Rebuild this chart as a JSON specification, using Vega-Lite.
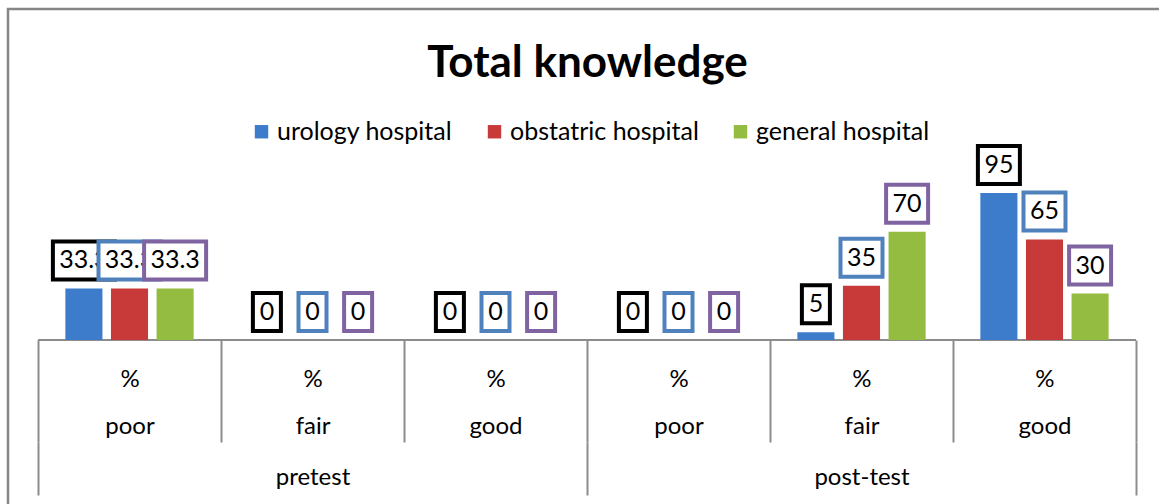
{
  "$schema": "https://vega.github.io/schema/vega-lite/v6.json",
  "autosize": {"type": "none"},
  "width": 1171,
  "height": 499,
  "padding": {"left": 8, "top": 9, "right": -20, "bottom": -4},
  "background": "#ffffff",
  "title": {"text": "Total knowledge", "font": "Lato", "fontSize": 44, "fontWeight": "bold", "color": "#000000", "anchor": "middle", "frame": "group", "baseline": "alphabetic", "offset": -67, "dy": 45, "dx": -6},
  "config": {
    "view": {"stroke": "#868686", "strokeWidth": 2.5},
    "font": "Lato"
  },
  "data": {"values": [
    {"group": "pretest|poor", "test": "pretest", "level": "poor", "hospital": "urology hospital", "value": 33.3},
    {"group": "pretest|poor", "test": "pretest", "level": "poor", "hospital": "obstatric hospital", "value": 33.3},
    {"group": "pretest|poor", "test": "pretest", "level": "poor", "hospital": "general hospital", "value": 33.3},
    {"group": "pretest|fair", "test": "pretest", "level": "fair", "hospital": "urology hospital", "value": 0},
    {"group": "pretest|fair", "test": "pretest", "level": "fair", "hospital": "obstatric hospital", "value": 0},
    {"group": "pretest|fair", "test": "pretest", "level": "fair", "hospital": "general hospital", "value": 0},
    {"group": "pretest|good", "test": "pretest", "level": "good", "hospital": "urology hospital", "value": 0},
    {"group": "pretest|good", "test": "pretest", "level": "good", "hospital": "obstatric hospital", "value": 0},
    {"group": "pretest|good", "test": "pretest", "level": "good", "hospital": "general hospital", "value": 0},
    {"group": "post-test|poor", "test": "post-test", "level": "poor", "hospital": "urology hospital", "value": 0},
    {"group": "post-test|poor", "test": "post-test", "level": "poor", "hospital": "obstatric hospital", "value": 0},
    {"group": "post-test|poor", "test": "post-test", "level": "poor", "hospital": "general hospital", "value": 0},
    {"group": "post-test|fair", "test": "post-test", "level": "fair", "hospital": "urology hospital", "value": 5},
    {"group": "post-test|fair", "test": "post-test", "level": "fair", "hospital": "obstatric hospital", "value": 35},
    {"group": "post-test|fair", "test": "post-test", "level": "fair", "hospital": "general hospital", "value": 70},
    {"group": "post-test|good", "test": "post-test", "level": "good", "hospital": "urology hospital", "value": 95},
    {"group": "post-test|good", "test": "post-test", "level": "good", "hospital": "obstatric hospital", "value": 65},
    {"group": "post-test|good", "test": "post-test", "level": "good", "hospital": "general hospital", "value": 30}
  ]},
  "layer": [
    {
      "encoding": {
        "x": {
          "field": "group", "type": "nominal", "sort": null,
          "scale": {"domain": ["pretest|poor", "pretest|fair", "pretest|good", "post-test|poor", "post-test|fair", "post-test|good"], "paddingInner": 0, "paddingOuter": 0.1995, "align": 0.411},
          "axis": {
            "orient": "bottom", "offset": -168, "title": null, "domain": false,
            "ticks": true, "tickBand": "extent", "tickSize": 102, "tickColor": "#8c8c8c", "tickWidth": 2,
            "labelExpr": "datum.label ? ['%', split(datum.label, '|')[1]] : ''",
            "labelFont": "Lato", "labelFontSize": 24, "labelColor": "#000000", "labelLineHeight": 47,
            "labelBaseline": "top", "labelPadding": -75, "labelOverlap": false, "labelAngle": 0
          }
        },
        "y": {"field": "value", "type": "quantitative", "scale": {"domain": [-108.57, 213.9], "nice": false, "zero": false}, "axis": null}
      },
      "layer": [
        {
          "mark": {"type": "bar", "fill": null, "fillOpacity": 0, "stroke": "#8c8c8c", "strokeWidth": 2},
          "encoding": {"y": {"datum": 0}, "y2": {"datum": 0}}
        },
        {
          "mark": {"type": "bar"},
          "encoding": {
            "xOffset": {"field": "hospital", "type": "nominal", "sort": null, "scale": {"domain": ["urology hospital", "obstatric hospital", "general hospital"], "paddingInner": 0.187, "paddingOuter": 0.6}},
            "y2": {"datum": 0},
            "color": {
              "field": "hospital", "type": "nominal", "sort": null,
              "scale": {"domain": ["urology hospital", "obstatric hospital", "general hospital"], "range": ["#3C7CCB", "#C83A3A", "#94BC40"]},
              "legend": {
                "orient": "none", "legendX": 241, "legendY": 110, "direction": "horizontal", "title": null,
                "labelFont": "Lato", "labelFontSize": 25, "labelColor": "#000000", "labelOffset": 3, "labelLimit": 0,
                "symbolType": "square", "symbolSize": 180, "symbolStrokeWidth": 0, "columnPadding": 29
              }
            }
          }
        },
        {
          "transform": [{"filter": "datum.hospital === 'urology hospital'"}],
          "mark": {"type": "point", "fill": "#ffffff", "stroke": "#000000", "strokeWidth": 4, "fillOpacity": 1, "strokeOpacity": 1, "opacity": 1, "size": 1444, "yOffset": -28},
          "encoding": {
            "xOffset": {"field": "hospital", "type": "nominal", "sort": null, "scale": {"domain": ["urology hospital", "obstatric hospital", "general hospital"], "paddingInner": 0.187, "paddingOuter": 0.6}},
            "shape": {"field": "value", "type": "nominal", "scale": {"domain": [0, 5, 30, 35, 65, 70, 95, 33.3], "range": ["M-0.737,-1H0.737V1H-0.737Z", "M-0.737,-1H0.737V1H-0.737Z", "M-1.105,-1H1.105V1H-1.105Z", "M-1.105,-1H1.105V1H-1.105Z", "M-1.105,-1H1.105V1H-1.105Z", "M-1.105,-1H1.105V1H-1.105Z", "M-1.105,-1H1.105V1H-1.105Z", "M-1.632,-1H1.632V1H-1.632Z"]}, "legend": null}
          }
        },
        {
          "transform": [{"filter": "datum.hospital === 'urology hospital'"}],
          "mark": {"type": "text", "font": "Lato", "fontSize": 25, "color": "#000000", "baseline": "middle", "align": "center", "yOffset": -28},
          "encoding": {
            "xOffset": {"field": "hospital", "type": "nominal", "sort": null, "scale": {"domain": ["urology hospital", "obstatric hospital", "general hospital"], "paddingInner": 0.187, "paddingOuter": 0.6}},
            "text": {"field": "value", "type": "nominal"}
          }
        },
        {
          "transform": [{"filter": "datum.hospital === 'obstatric hospital'"}],
          "mark": {"type": "point", "fill": "#ffffff", "stroke": "#4F81BD", "strokeWidth": 4, "fillOpacity": 1, "strokeOpacity": 1, "opacity": 1, "size": 1444, "yOffset": -28},
          "encoding": {
            "xOffset": {"field": "hospital", "type": "nominal", "sort": null, "scale": {"domain": ["urology hospital", "obstatric hospital", "general hospital"], "paddingInner": 0.187, "paddingOuter": 0.6}},
            "shape": {"field": "value", "type": "nominal", "scale": {"domain": [0, 5, 30, 35, 65, 70, 95, 33.3], "range": ["M-0.737,-1H0.737V1H-0.737Z", "M-0.737,-1H0.737V1H-0.737Z", "M-1.105,-1H1.105V1H-1.105Z", "M-1.105,-1H1.105V1H-1.105Z", "M-1.105,-1H1.105V1H-1.105Z", "M-1.105,-1H1.105V1H-1.105Z", "M-1.105,-1H1.105V1H-1.105Z", "M-1.632,-1H1.632V1H-1.632Z"]}, "legend": null}
          }
        },
        {
          "transform": [{"filter": "datum.hospital === 'obstatric hospital'"}],
          "mark": {"type": "text", "font": "Lato", "fontSize": 25, "color": "#000000", "baseline": "middle", "align": "center", "yOffset": -28},
          "encoding": {
            "xOffset": {"field": "hospital", "type": "nominal", "sort": null, "scale": {"domain": ["urology hospital", "obstatric hospital", "general hospital"], "paddingInner": 0.187, "paddingOuter": 0.6}},
            "text": {"field": "value", "type": "nominal"}
          }
        },
        {
          "transform": [{"filter": "datum.hospital === 'general hospital'"}],
          "mark": {"type": "point", "fill": "#ffffff", "stroke": "#8064A2", "strokeWidth": 4, "fillOpacity": 1, "strokeOpacity": 1, "opacity": 1, "size": 1444, "yOffset": -28},
          "encoding": {
            "xOffset": {"field": "hospital", "type": "nominal", "sort": null, "scale": {"domain": ["urology hospital", "obstatric hospital", "general hospital"], "paddingInner": 0.187, "paddingOuter": 0.6}},
            "shape": {"field": "value", "type": "nominal", "scale": {"domain": [0, 5, 30, 35, 65, 70, 95, 33.3], "range": ["M-0.737,-1H0.737V1H-0.737Z", "M-0.737,-1H0.737V1H-0.737Z", "M-1.105,-1H1.105V1H-1.105Z", "M-1.105,-1H1.105V1H-1.105Z", "M-1.105,-1H1.105V1H-1.105Z", "M-1.105,-1H1.105V1H-1.105Z", "M-1.105,-1H1.105V1H-1.105Z", "M-1.632,-1H1.632V1H-1.632Z"]}, "legend": null}
          }
        },
        {
          "transform": [{"filter": "datum.hospital === 'general hospital'"}],
          "mark": {"type": "text", "font": "Lato", "fontSize": 25, "color": "#000000", "baseline": "middle", "align": "center", "yOffset": -28},
          "encoding": {
            "xOffset": {"field": "hospital", "type": "nominal", "sort": null, "scale": {"domain": ["urology hospital", "obstatric hospital", "general hospital"], "paddingInner": 0.187, "paddingOuter": 0.6}},
            "text": {"field": "value", "type": "nominal"}
          }
        }
      ]
    },
    {
      "mark": {"type": "point", "opacity": 0},
      "encoding": {
        "x": {
          "field": "test", "type": "nominal", "sort": null,
          "scale": {"domain": ["pretest", "post-test"], "paddingInner": 0, "paddingOuter": 0.0665, "align": 0.411},
          "axis": {
            "orient": "bottom", "offset": -66, "title": null, "domain": false,
            "ticks": true, "tickBand": "extent", "tickSize": 53, "tickColor": "#8c8c8c", "tickWidth": 2,
            "labelFont": "Lato", "labelFontSize": 24, "labelColor": "#000000",
            "labelBaseline": "top", "labelPadding": -30, "labelOverlap": false, "labelAngle": 0
          }
        }
      }
    }
  ],
  "resolve": {"scale": {"x": "independent", "shape": "shared"}, "axis": {"x": "independent"}}
}
